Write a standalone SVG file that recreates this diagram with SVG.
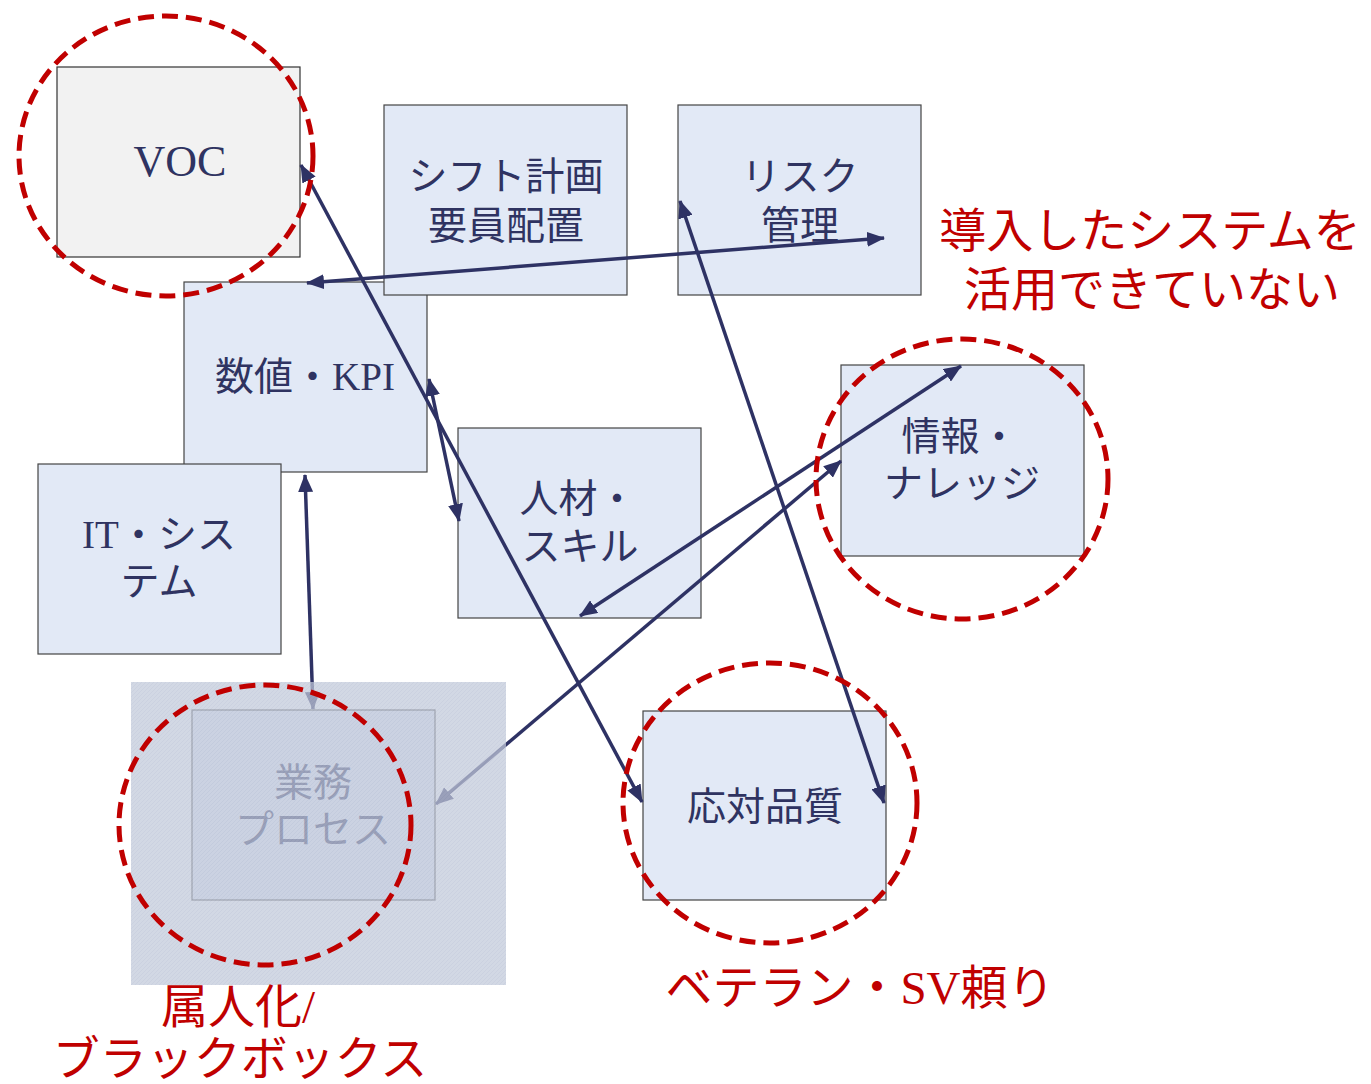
<svg xmlns="http://www.w3.org/2000/svg" width="1371" height="1084" viewBox="0 0 1371 1084">
<defs>
<marker id="arr" viewBox="0 0 18 15" refX="17" refY="7.5" markerWidth="18" markerHeight="15" markerUnits="userSpaceOnUse" orient="auto-start-reverse">
<path d="M0,0 L18,7.5 L0,15 z" fill="#2e3264"/>
</marker>
<pattern id="tex" width="4" height="4" patternUnits="userSpaceOnUse">
<rect width="4" height="4" fill="#c2c9da"/>
<path d="M0,4 L4,0" stroke="#b8c0d4" stroke-width="1"/>
</pattern>
</defs>
<style>
.box{fill:#e2e9f6;stroke:#444;stroke-width:1.2}
.voc{fill:#f2f2f2;stroke:#333;stroke-width:1.2}
.t{font-family:"Liberation Serif","Noto Sans CJK JP",serif;font-size:39px;fill:#2f3361;text-anchor:middle}
.c{fill:none;stroke:#2e3264;stroke-width:3.5;marker-start:url(#arr);marker-end:url(#arr)}
.ring{fill:none;stroke:#c00000;stroke-width:5;stroke-dasharray:16 8}
.r{font-family:"Liberation Serif","Noto Sans CJK JP",serif;font-size:47px;fill:#c00000;text-anchor:middle}
</style>
<rect width="1371" height="1084" fill="#ffffff"/>

<g id="node-gyomu">
<rect class="box" x="192" y="710" width="243" height="190"/>
<text class="t" x="313" y="796">業務</text>
<text class="t" x="313" y="843">プロセス</text>
</g>
<g id="node-kpi">
<rect class="box" x="184" y="282" width="243" height="190"/>
<text class="t" x="305" y="390">数値・KPI</text>
</g>
<g id="node-voc">
<rect class="voc" x="57" y="67" width="243" height="190"/>
<text class="t" x="180" y="176" style="font-size:44px">VOC</text>
</g>
<g id="node-shift">
<rect class="box" x="384" y="105" width="243" height="190"/>
<text class="t" x="506" y="190">シフト計画</text>
<text class="t" x="506" y="239">要員配置</text>
</g>
<g id="node-risk">
<rect class="box" x="678" y="105" width="243" height="190"/>
<text class="t" x="800" y="190">リスク</text>
<text class="t" x="800" y="239">管理</text>
</g>
<g id="node-it">
<rect class="box" x="38" y="464" width="243" height="190"/>
<text class="t" x="159" y="548">IT・シス</text>
<text class="t" x="159" y="595">テム</text>
</g>
<g id="node-jinzai">
<rect class="box" x="458" y="428" width="243" height="190"/>
<text class="t" x="578" y="512">人材・</text>
<text class="t" x="580" y="560">スキル</text>
</g>
<g id="node-joho">
<rect class="box" x="841" y="365" width="243" height="191"/>
<text class="t" x="960" y="450">情報・</text>
<text class="t" x="962" y="497">ナレッジ</text>
</g>
<g id="node-otai">
<rect class="box" x="643" y="711" width="243" height="189"/>
<text class="t" x="765" y="820">応対品質</text>
</g>

<g id="connectors">
<line class="c" x1="301" y1="165" x2="642" y2="802"/>
<line class="c" x1="307" y1="283" x2="884" y2="238"/>
<line class="c" x1="429" y1="379" x2="459" y2="521"/>
<line class="c" x1="305" y1="475" x2="313" y2="709"/>
<line class="c" x1="961" y1="366" x2="580" y2="616"/>
<line class="c" x1="841" y1="461" x2="436" y2="804"/>
<line class="c" x1="680" y1="201" x2="884" y2="803"/>
</g>

<rect id="overlay" x="131" y="682" width="375" height="303" fill="url(#tex)" opacity="0.73"/>

<g id="rings">
<ellipse class="ring" cx="166" cy="156" rx="147" ry="140"/>
<ellipse class="ring" cx="265" cy="825" rx="146" ry="140"/>
<ellipse class="ring" cx="962" cy="479" rx="146" ry="140"/>
<ellipse class="ring" cx="770" cy="803" rx="147" ry="140"/>
</g>

<g id="labels">
<text class="r" x="1150" y="247">導入したシステムを</text>
<text class="r" x="1152" y="306">活用できていない</text>
<text class="r" x="860" y="1004">ベテラン・SV頼り</text>
<text class="r" x="238" y="1023">属人化/</text>
<text class="r" x="240" y="1075">ブラックボックス</text>
</g>
</svg>
